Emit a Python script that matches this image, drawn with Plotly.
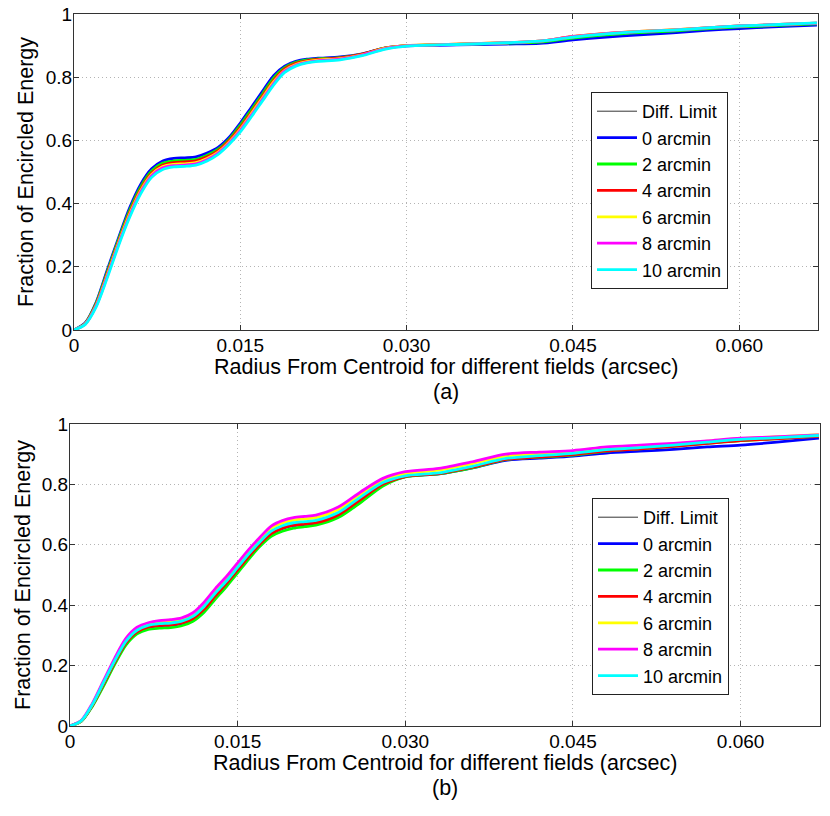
import plotly.graph_objects as go

W, H = 830, 816

# ---------------- data ----------------
radius = [0, 0.001, 0.002, 0.003, 0.004, 0.005, 0.006, 0.007, 0.008, 0.009,
          0.010, 0.011, 0.012, 0.013, 0.014, 0.015, 0.016, 0.017, 0.018, 0.019,
          0.020, 0.021, 0.022, 0.024, 0.026, 0.028, 0.030, 0.033, 0.036, 0.039,
          0.042, 0.045, 0.048, 0.051, 0.054, 0.057, 0.060, 0.063, 0.067]

series_names = ["Diff. Limit", "0 arcmin", "2 arcmin", "4 arcmin",
                "6 arcmin", "8 arcmin", "10 arcmin"]
series_colors = ["#000000", "#0000ff", "#00ff00", "#ff0000",
                 "#ffff00", "#ff00ff", "#00ffff"]

# panel (a)
diff_a = [0, 0.022, 0.088, 0.19, 0.29, 0.385, 0.46, 0.51, 0.535, 0.543,
          0.545, 0.548, 0.56, 0.578, 0.61, 0.655, 0.705, 0.755, 0.805, 0.835,
          0.85, 0.857, 0.86, 0.864, 0.874, 0.892, 0.899, 0.901, 0.903, 0.905,
          0.907, 0.918, 0.927, 0.934, 0.94, 0.948, 0.954, 0.959, 0.965]
blue_a = [0, 0.022, 0.088, 0.19, 0.29, 0.385, 0.46, 0.51, 0.535, 0.543,
          0.545, 0.548, 0.56, 0.578, 0.61, 0.655, 0.705, 0.755, 0.805, 0.835,
          0.85, 0.857, 0.86, 0.864, 0.874, 0.892, 0.899, 0.901, 0.903, 0.905,
          0.907, 0.918, 0.927, 0.934, 0.94, 0.948, 0.954, 0.959, 0.965]
green_a = [0, 0.021, 0.085, 0.184, 0.284, 0.377, 0.452, 0.503, 0.528, 0.535,
           0.537, 0.54, 0.553, 0.572, 0.604, 0.648, 0.697, 0.747, 0.797, 0.83,
           0.847, 0.855, 0.858, 0.862, 0.873, 0.892, 0.9, 0.903, 0.905, 0.908,
           0.911, 0.924, 0.934, 0.941, 0.946, 0.953, 0.959, 0.963, 0.969]
red_a = [0, 0.02, 0.081, 0.178, 0.278, 0.37, 0.445, 0.497, 0.522, 0.53,
         0.532, 0.535, 0.548, 0.568, 0.6, 0.641, 0.69, 0.74, 0.79, 0.826,
         0.844, 0.852, 0.856, 0.861, 0.873, 0.892, 0.9, 0.903, 0.906, 0.909,
         0.914, 0.929, 0.939, 0.945, 0.95, 0.956, 0.962, 0.966, 0.971]
yellow_a = [0, 0.019, 0.078, 0.174, 0.274, 0.365, 0.44, 0.492, 0.517, 0.524,
            0.526, 0.53, 0.543, 0.563, 0.595, 0.636, 0.685, 0.735, 0.785, 0.822,
            0.84, 0.849, 0.854, 0.859, 0.871, 0.891, 0.9, 0.903, 0.906, 0.909,
            0.914, 0.928, 0.938, 0.945, 0.95, 0.956, 0.962, 0.966, 0.971]
magenta_a = [0, 0.018, 0.076, 0.17, 0.27, 0.36, 0.435, 0.488, 0.513, 0.52,
             0.522, 0.526, 0.539, 0.56, 0.592, 0.632, 0.68, 0.73, 0.78, 0.819,
             0.838, 0.847, 0.852, 0.857, 0.87, 0.89, 0.899, 0.902, 0.905, 0.909,
             0.914, 0.928, 0.938, 0.944, 0.949, 0.956, 0.962, 0.966, 0.971]
cyan_a = [0, 0.017, 0.073, 0.165, 0.265, 0.355, 0.43, 0.483, 0.508, 0.516,
          0.518, 0.522, 0.535, 0.556, 0.588, 0.627, 0.675, 0.725, 0.775, 0.815,
          0.835, 0.845, 0.85, 0.855, 0.868, 0.888, 0.898, 0.902, 0.905, 0.909,
          0.914, 0.927, 0.937, 0.944, 0.949, 0.956, 0.962, 0.966, 0.972]

# panel (b)
diff_b = [0, 0.016, 0.068, 0.138, 0.21, 0.274, 0.311, 0.327, 0.332, 0.334,
          0.34, 0.355, 0.386, 0.43, 0.471, 0.516, 0.561, 0.602, 0.636, 0.654,
          0.664, 0.668, 0.672, 0.698, 0.749, 0.8, 0.826, 0.835, 0.855, 0.88,
          0.887, 0.894, 0.904, 0.91, 0.916, 0.924, 0.93, 0.939, 0.953]
blue_b = [0, 0.016, 0.068, 0.138, 0.21, 0.274, 0.311, 0.327, 0.332, 0.334,
          0.34, 0.355, 0.386, 0.43, 0.471, 0.516, 0.561, 0.602, 0.636, 0.654,
          0.664, 0.668, 0.672, 0.698, 0.749, 0.8, 0.826, 0.835, 0.855, 0.88,
          0.887, 0.894, 0.904, 0.91, 0.916, 0.924, 0.93, 0.939, 0.953]
green_b = [0, 0.015, 0.065, 0.132, 0.204, 0.268, 0.305, 0.32, 0.324, 0.326,
           0.332, 0.347, 0.377, 0.42, 0.462, 0.507, 0.553, 0.595, 0.628, 0.645,
           0.655, 0.66, 0.665, 0.69, 0.74, 0.795, 0.825, 0.835, 0.855, 0.882,
           0.89, 0.897, 0.91, 0.918, 0.926, 0.936, 0.945, 0.951, 0.96]
red_b = [0, 0.016, 0.068, 0.139, 0.211, 0.275, 0.312, 0.328, 0.333, 0.335,
         0.341, 0.356, 0.387, 0.431, 0.472, 0.517, 0.562, 0.603, 0.637, 0.655,
         0.665, 0.669, 0.673, 0.699, 0.75, 0.801, 0.826, 0.836, 0.857, 0.883,
         0.891, 0.899, 0.911, 0.918, 0.926, 0.936, 0.945, 0.951, 0.959]
yellow_b = [0, 0.017, 0.072, 0.146, 0.219, 0.284, 0.321, 0.336, 0.342, 0.345,
            0.351, 0.368, 0.402, 0.447, 0.487, 0.532, 0.577, 0.617, 0.654, 0.672,
            0.682, 0.686, 0.69, 0.717, 0.767, 0.813, 0.836, 0.847, 0.869, 0.894,
            0.902, 0.908, 0.92, 0.927, 0.934, 0.943, 0.952, 0.957, 0.965]
magenta_b = [0, 0.018, 0.075, 0.15, 0.225, 0.29, 0.327, 0.342, 0.349, 0.352,
             0.358, 0.375, 0.41, 0.455, 0.495, 0.54, 0.585, 0.625, 0.662, 0.68,
             0.69, 0.694, 0.698, 0.725, 0.775, 0.82, 0.842, 0.853, 0.875, 0.9,
             0.907, 0.912, 0.924, 0.93, 0.936, 0.944, 0.953, 0.957, 0.964]
cyan_b = [0, 0.017, 0.071, 0.144, 0.216, 0.28, 0.317, 0.333, 0.339, 0.341,
          0.347, 0.363, 0.396, 0.44, 0.48, 0.525, 0.57, 0.61, 0.645, 0.663,
          0.673, 0.677, 0.681, 0.707, 0.758, 0.806, 0.828, 0.838, 0.86, 0.886,
          0.895, 0.903, 0.915, 0.922, 0.93, 0.94, 0.949, 0.954, 0.962]

panel_a = [diff_a, blue_a, green_a, red_a, yellow_a, magenta_a, cyan_a]
panel_b = [diff_b, blue_b, green_b, red_b, yellow_b, magenta_b, cyan_b]

x_tickvals = [0, 0.015, 0.030, 0.045, 0.060]
x_ticktext = ["0", "0.015", "0.030", "0.045", "0.060"]
y_tickvals = [0, 0.2, 0.4, 0.6, 0.8, 1]
y_ticktext = ["0", "0.2", "0.4", "0.6", "0.8", "1"]

x_title = "Radius From Centroid for different fields (arcsec)"
y_title = "Fraction of Encircled Energy"

FONT = "Liberation Sans, Arial, Helvetica, sans-serif"

# ---------------- figure ----------------
fig = go.Figure()

for panel, xa, ya, leg in [(panel_a, "x", "y", "legend"), (panel_b, "x2", "y2", "legend2")]:
    for i, (vals, name, col) in enumerate(zip(panel, series_names, series_colors)):
        fig.add_trace(go.Scatter(
            x=radius, y=vals, name=name, mode="lines",
            line=dict(color=col, width=0.8 if i == 0 else 2.8, shape="spline", smoothing=0.8),
            xaxis=xa, yaxis=ya, legend=leg, hoverinfo="skip",
        ))


def px_x(p):
    return p / W


def px_y(p):
    return 1 - p / H


GRID = dict(showgrid=True, gridcolor="#b4b4b4", griddash="1px,3px", gridwidth=1)


def xaxis_style(domain, anchor):
    return dict(
        domain=domain, anchor=anchor, range=[0, 0.0671], automargin=False,
        tickvals=x_tickvals, ticktext=x_ticktext,
        ticks="inside", ticklen=5, tickcolor="#333333", tickwidth=1,
        showline=True, linecolor="#333333", linewidth=1, mirror="ticks",
        zeroline=False, tickfont=dict(family=FONT, size=19, color="black"),
        ticklabelstandoff=-2,
        **GRID,
    )


def yaxis_style(domain, anchor):
    return dict(
        domain=domain, anchor=anchor, range=[0, 1], automargin=False,
        tickvals=y_tickvals, ticktext=y_ticktext,
        ticks="inside", ticklen=5, tickcolor="#333333", tickwidth=1,
        showline=True, linecolor="#333333", linewidth=1, mirror="ticks",
        zeroline=False, tickfont=dict(family=FONT, size=19, color="black"),
        ticklabelstandoff=-3,
        **GRID,
    )


legend_common = dict(
    xanchor="left", yanchor="top",
    bgcolor="white", bordercolor="#222222", borderwidth=1,
    font=dict(family=FONT, size=18, color="black"),
    itemwidth=40, tracegroupgap=0,
)

fig.update_layout(
    template="none",
    width=W, height=H,
    margin=dict(l=0, r=0, t=0, b=0, autoexpand=False),
    paper_bgcolor="white", plot_bgcolor="white",
    showlegend=True,
    xaxis=xaxis_style([px_x(74), px_x(818)], "y"),
    yaxis=yaxis_style([px_y(330), px_y(14)], "x"),
    xaxis2=xaxis_style([px_x(70), px_x(820)], "y2"),
    yaxis2=yaxis_style([px_y(726), px_y(424)], "x2"),
    legend=dict(x=px_x(591), y=px_y(92), **legend_common),
    legend2=dict(x=px_x(592), y=px_y(498), **legend_common),
    font=dict(family=FONT, color="black"),
)

ann = []
for cx, ty, yx, yy in [(446, 367, 26, 172), (445, 763, 23, 575)]:
    ann.append(dict(x=px_x(cx), y=px_y(ty), xref="paper", yref="paper", text=x_title,
                    showarrow=False, xanchor="center", yanchor="middle",
                    font=dict(family=FONT, size=21.5, color="black")))
    ann.append(dict(x=px_x(yx), y=px_y(yy), xref="paper", yref="paper", text=y_title,
                    showarrow=False, xanchor="center", yanchor="middle", textangle=-90,
                    font=dict(family=FONT, size=21.5, color="black")))
ann.append(dict(x=px_x(446), y=px_y(392), xref="paper", yref="paper", text="(a)",
                showarrow=False, xanchor="center", yanchor="middle",
                font=dict(family=FONT, size=21.5, color="black")))
ann.append(dict(x=px_x(445), y=px_y(788), xref="paper", yref="paper", text="(b)",
                showarrow=False, xanchor="center", yanchor="middle",
                font=dict(family=FONT, size=21.5, color="black")))
fig.update_layout(annotations=ann)

fig.write_html("out.html",
               config={"displayModeBar": False},
               post_script="document.body.style.margin='0';document.body.style.overflow='hidden';")
